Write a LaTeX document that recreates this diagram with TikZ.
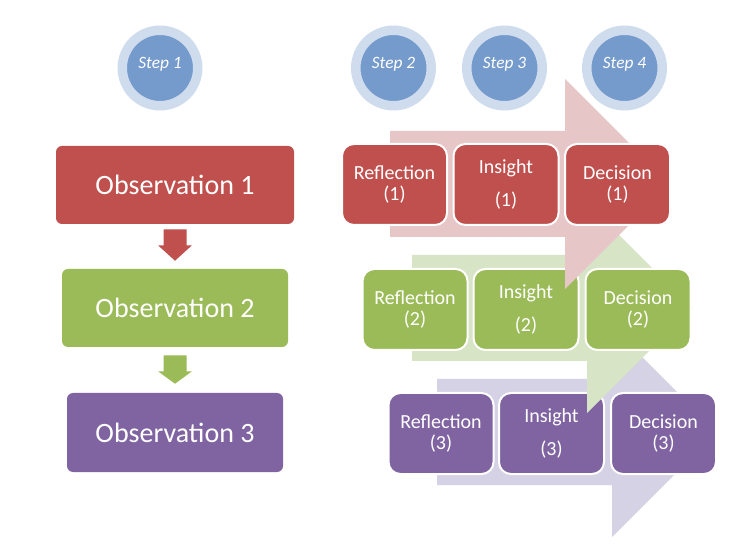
\documentclass[tikz,border=0pt]{standalone}
\usepackage{fontspec}
\setmainfont{Carlito}
\usetikzlibrary{calc}

\definecolor{obsred}{RGB}{192,80,77}
\definecolor{obsgreen}{RGB}{155,187,89}
\definecolor{obspurple}{RGB}{128,100,162}
\definecolor{fadered}{RGB}{230,198,198}
\definecolor{fadegreen}{RGB}{216,228,198}
\definecolor{fadepurple}{RGB}{212,210,228}
\definecolor{stepblue}{RGB}{117,154,204}
\definecolor{stepring}{RGB}{207,220,237}

\begin{document}
\begin{tikzpicture}[x=0.75pt,y=-0.75pt,
        obsbox/.style={rounded corners=4.5pt,minimum height=58.5pt,
            text=white,font=\fontsize{21}{25}\selectfont},
        stagebox/.style={draw=white,line width=1.5pt,rounded corners=9pt,
            minimum width=78.75pt,minimum height=60.75pt,inner sep=0pt,
            align=center,text=white,font=\fontsize{15}{16}\selectfont},
        stepdot/.style={circle,draw=stepring,fill=stepblue,line width=7.1pt,
            minimum size=56.6pt,inner sep=0pt,text height=9pt,text depth=8.5pt,
            text=white,font=\fontsize{13}{15}\selectfont\itshape}]
            \fill[white] (0, 0) rectangle (742, 548);
            \useasboundingbox (0, 0) rectangle (742, 548);

            % left column
            \node[obsbox,fill=obsred,minimum width=178.5pt] (o1) at (175, 185) {Observation 1};
            \node[obsbox,fill=obsgreen,minimum width=169.5pt] (o2) at (175, 308) {Observation 2};
            \node[obsbox,fill=obspurple,minimum width=162pt,minimum height=59.25pt] (o3) at (175, 432.5) {Observation 3};

            \fill[obsred]
                ($(o1.south)+(-11.5, 5)$) -- ++(23, 0) -- ++(0, 16) -- ++(5.5, 0)
                -- ($(o2.north)+(0, -8)$) -- ($(o1.south)+(-17, 21)$) -- ++(5.5, 0) -- cycle;
            \fill[obsgreen]
                ($(o2.south)+(-11.5, 8)$) -- ++(23, 0) -- ++(0, 16) -- ++(5.5, 0)
                -- ($(o3.north)+(0, -9)$) -- ($(o2.south)+(-17, 24)$) -- ++(5.5, 0) -- cycle;

            % right side, back to front
            \fill[fadepurple]
                (437, 379) -- (612, 379) -- (612, 327) -- (717, 432)
                -- (612, 537) -- (612, 485) -- (437, 485) -- cycle;

            \node[stagebox,fill=obspurple] (r3) at (441, 433.5) {Reflection\\(3)};
            \node[stagebox,fill=obspurple] (i3) at (551.5, 433.5) {Insight\\[9pt](3)};
            \node[stagebox,fill=obspurple] (d3) at (663.5, 433.5) {Decision\\(3)};

            \fill[fadegreen]
                (412, 255) -- (587, 255) -- (587, 203) -- (692, 308)
                -- (587, 413) -- (587, 361) -- (412, 361) -- cycle;

            \node[stagebox,fill=obsgreen] (r2) at (415, 309.5) {Reflection\\(2)};
            \node[stagebox,fill=obsgreen] (i2) at (526, 309.5) {Insight\\[9pt](2)};
            \node[stagebox,fill=obsgreen] (d2) at (638, 309.5) {Decision\\(2)};

            \fill[fadered]
                (390, 131) -- (565, 131) -- (565, 79) -- (670, 184)
                -- (565, 289) -- (565, 237) -- (390, 237) -- cycle;

            \node[stagebox,fill=obsred] (r1) at (394.5, 184.5) {Reflection\\(1)};
            \node[stagebox,fill=obsred] (i1) at (506, 184.5) {Insight\\[9pt](1)};
            \node[stagebox,fill=obsred] (d1) at (617.5, 184.5) {Decision\\(1)};

            % steps
            \node[stepdot] (s1) at (160, 68) {Step 1};
            \node[stepdot] (s2) at (393.5, 68) {Step 2};
            \node[stepdot] (s3) at (504.5, 68) {Step 3};
            \node[stepdot] (s4) at (624.5, 68) {Step 4};
        \end{tikzpicture}
\end{document}
